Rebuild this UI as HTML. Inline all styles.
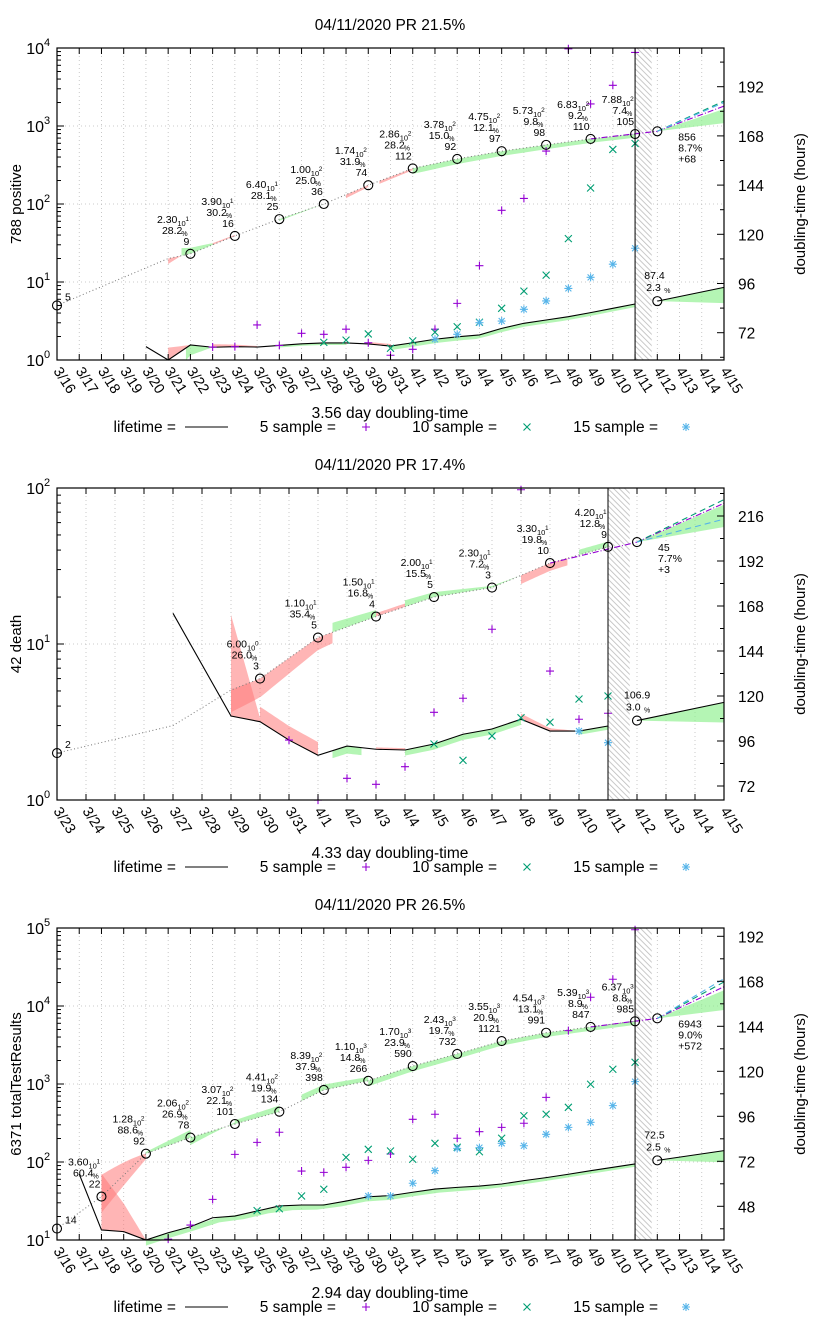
<!DOCTYPE html>
<html><head><meta charset="utf-8">
<style>
html,body{margin:0;padding:0;background:#fff;}
svg{display:block;font-family:"Liberation Sans",Arial,sans-serif;}
</style></head>
<body>
<svg id="chart" xmlns="http://www.w3.org/2000/svg" width="820" height="1320" viewBox="0 0 820 1320">
<defs>
<pattern id="hatch" patternUnits="userSpaceOnUse" width="4" height="4" patternTransform="rotate(-45)">
<rect width="4" height="4" fill="#fff"/>
<line x1="0" y1="0" x2="0" y2="4" stroke="#bbb" stroke-width="1.6"/>
</pattern>
</defs>
</svg>
<script>
// ---------- Panel 1: positive ----------
const p1Dates = ['3/16','3/17','3/18','3/19','3/20','3/21','3/22','3/23','3/24','3/25','3/26','3/27','3/28','3/29','3/30','3/31','4/1','4/2','4/3','4/4','4/5','4/6','4/7','4/8','4/9','4/10','4/11','4/12','4/13','4/14','4/15'];
const p1CumDays = [0,5,6,8,10,12,14,16,18,20,22,24,26];
const p1CumVals = [5,20,23,39,64,100,174,286,378,475,573,683,788];
const p1CircleDays = [0,6,8,10,12,14,16,18,20,22,24,26];
const p1LabelMant = ['','2.30','3.90','6.40','1.00','1.74','2.86','3.78','4.75','5.73','6.83','7.88'];
const p1LabelExp = ['','1','1','1','2','2','2','2','2','2','2','2'];
const p1LabelPct = ['','28.2','30.2','28.1','25.0','31.9','28.2','15.0','12.1','9.8','9.2','7.4'];
const p1LabelDelta = ['5','9','16','25','36','74','112','92','97','98','110','105'];
const p1DoubDays = [4,5,6,7,8,9,10,11,12,13,14,15,16,17,18,19,20,21,22,23,24,25,26];
const p1DoubVals = [65.2,58.7,66,64.9,65.2,65,65.8,66.6,67,67,66.5,65.5,67.1,68.8,70,70.9,74.1,76.6,78.2,79.8,81.8,83.9,86];
const p1PlusDays = [7,8,9,10,11,12,13,14,15,16,17,18,19,20,21,22,23,24,25,26];
const p1PlusVals = [65,65.2,75.8,65.8,71.7,71.2,73.7,67.1,61,63.9,73.7,86.3,104.7,131.7,137.5,160.6,210.5,183.6,192.7,208.7];
const p1CrossDays = [12,13,14,15,16,17,18,19,20,21,22,23,24,25,26];
const p1CrossVals = [67.3,68.4,71.4,64.4,68,72.2,74.9,77.1,83.9,92.3,100.1,117.9,142.6,161.4,164.3];
const p1StarDays = [17,18,19,20,21,22,23,24,25,26];
const p1StarVals = [68.8,71.2,76.9,77.7,83.4,87.5,93.6,99,105.4,113.2];
const p1Proj = [856, 1800, 2090, 2000, 1650, 1090]; // value, purple end, teal end, cyan end, band hi, band lo
const p1ProjText = ['856','8.7%','+68'];
const p1DoubProj = [87.4, 94.1];
const p1DoubProjText = ['87.4','2.3'];
const p1CumBands = [[5,5.6,'r',0.85,1.0],[5.6,7,'g',1.25,1.05],[7,8,'r',1.05,1.03],[10,12,'g',0.95,1.0],[13,14,'r',0.9,0.95],[14.5,16,'r',0.92,0.95],[16,26,'g',0.85,0.9]];
const p1DoubBands = [[5,6,'r',6,0],[5.8,7,'g',-6,0],[7,9,'r',1.5,0.5],[10,13,'g',-1,-1],[14,15,'r',1,1],[15,26,'g',-2,-1.5]];
const p1LeftTicks = ['0','1','2','3','4'];
const p1RightTicks = [72,96,120,144,168,192];

// ---------- Panel 2: death ----------
const p2Dates = ['3/23','3/24','3/25','3/26','3/27','3/28','3/29','3/30','3/31','4/1','4/2','4/3','4/4','4/5','4/6','4/7','4/8','4/9','4/10','4/11','4/12','4/13','4/14','4/15'];
const p2CumDays = [0,4,6,7,9,11,13,15,17,19];
const p2CumVals = [2,3,5.07,6,11,15,20,23,33,42];
const p2CircleDays = [0,7,9,11,13,15,17,19];
const p2LabelMant = ['','6.00','1.10','1.50','2.00','2.30','3.30','4.20'];
const p2LabelExp = ['','0','1','1','1','1','1','1'];
const p2LabelPct = ['','26.0','35.4','16.8','15.5','7.2','19.8','12.8'];
const p2LabelDelta = ['2','3','5','4','5','3','10','9'];
const p2DoubDays = [4,6,7,8,9,10,11,12,13,14,15,16,17,18,19];
const p2DoubVals = [164.1,109.3,106.3,96.5,88.4,93.3,91.6,91.2,94.4,99.6,102.4,107.6,101.3,101.3,104];
const p2PlusDays = [8,9,10,11,12,13,14,15,16,17,18,19];
const p2PlusVals = [96.5,64.5,76.1,72.9,82.3,111.3,118.8,155.6,230,133.3,107.6,110.8];
const p2CrossDays = [13,14,15,16,17,18,19];
const p2CrossVals = [94.4,85.7,98.7,108.4,106,118.4,120];
const p2StarDays = [18,19];
const p2StarVals = [101.3,95.1];
const p2Proj = [45, 79.8, 84.3, 63.2, 78.1, 56.2];
const p2ProjText = ['45','7.7%','+3'];
const p2DoubProj = [106.9, 116.6];
const p2DoubProjText = ['106.9','3.0'];
const p2CumBands = [[6,9.5,'r',0.72,0.85],[9.5,11,'g',1.15,1.1],[11,12,'r',1.05,1.05],[12,16,'g',1.1,1.0],[16,17.6,'r',0.88,0.9],[18,19,'g',1.08,1.08]];
const p2DoubBands = [[6,7,'r',54,2],[7,9,'r',8,7],[9.5,10.5,'g',-4,-4],[11,12,'r',1,1],[12,16,'g',-3,-3],[16,18,'r',3,0],[18,19,'g',-2,-2]];
const p2LeftTicks = ['0','1','2'];
const p2RightTicks = [72,96,120,144,168,192,216];

// ---------- Panel 3: totalTestResults ----------
const p3Dates = p1Dates.slice();
const p3CumDays = [0,2,4,6,8,10,12,14,16,18,20,22,24,26];
const p3CumVals = [14,36,128,206,307,441,839,1100,1700,2430,3550,4540,5390,6371];
const p3CircleDays = [0,2,4,6,8,10,12,14,16,18,20,22,24,26];
const p3LabelMant = ['','3.60','1.28','2.06','3.07','4.41','8.39','1.10','1.70','2.43','3.55','4.54','5.39','6.37'];
const p3LabelExp = ['','1','2','2','2','2','2','3','3','3','3','3','3','3'];
const p3LabelPct = ['','60.4','88.6','26.9','22.1','19.9','37.9','14.8','23.9','19.7','20.9','13.1','8.9','8.8'];
const p3LabelDelta = ['14','22','92','78','101','134','398','266','590','732','1121','991','847','985'];
const p3DoubDays = [1,2,3,4,5,6,7,8,9,10,11,12,13,14,15,16,17,18,19,20,21,22,23,24,25,26];
const p3DoubVals = [65.2,35.4,34.5,30,33.9,37.1,41.9,42.8,45.5,48.2,48.7,48.7,50.8,53.1,53.7,55.5,57.2,58.1,58.8,59.9,61.7,63.3,65.1,67,68.8,70.6];
const p3PlusDays = [5,6,7,8,9,10,11,12,13,14,15,16,17,18,19,20,21,22,23,24,25,26];
const p3PlusVals = [30.5,38,51.7,75.7,82.1,87.5,66.8,66.1,68.8,72.5,75.9,94.4,97.1,84.3,87.8,90.1,92.3,106.1,141.7,159.5,169.1,195.5];
const p3CrossDays = [9,10,11,12,13,14,15,16,17,18,19,20,21,22,23,24,25,26];
const p3CrossVals = [45.7,46.7,53.5,57.1,74.1,78.4,77.5,73.1,81.6,79.5,77.1,84.3,96.3,97.1,100.8,113.1,121.1,124.8];
const p3StarDays = [14,15,16,17,18,19,20,21,22,23,24,25,26];
const p3StarVals = [53.5,53.5,60.3,67,78.9,79.3,81.6,80.3,86.4,90.1,92.8,101.7,114.5];
const p3Proj = [6943, 17660, 20340, 22390, 15900, 8890];
const p3ProjText = ['6943','9.0%','+572'];
const p3DoubProj = [72.5, 77.7];
const p3DoubProjText = ['72.5','2.5'];
const p3CumBands = [[2,4,'r',1.9,1.0],[2,4,'r',0.62,0.85],[4,6,'g',1.05,1.25],[6,8,'g',0.8,1.05],[8,10,'g',1.12,1.2],[11,14,'g',1.2,1.12],[14,26,'g',0.85,0.9]];
const p3DoubBands = [[2,4,'r',30,0],[4,26,'g',-3,-1.5]];
const p3LeftTicks = ['1','2','3','4','5'];
const p3RightTicks = [48,72,96,120,144,168,192];

const NS = 'http://www.w3.org/2000/svg';
const svg = document.getElementById('chart');
const PURPLE = '#9400d3', TEAL = '#009e73', CYAN = '#56b4e9';
const GREEN = 'rgba(140,240,140,0.65)', RED = 'rgba(255,120,120,0.55)';

function mk(tag, attrs, parent) {
  const e = document.createElementNS(NS, tag);
  for (const k in attrs) e.setAttribute(k, attrs[k]);
  (parent || svg).appendChild(e);
  return e;
}
function txt(str, attrs, parent) {
  const e = mk('text', attrs, parent);
  e.textContent = str;
  return e;
}

function drawPanel(C) {
  const g = mk('g', {});
  
  
  const xs = d => C.x0 + d * (C.x1 - C.x0) / C.ndays;
  const yl = v => C.bot - (Math.log10(v) - C.lmin) * (C.bot - C.top) / (C.lmax - C.lmin);
  const yr = h => C.y72 - (h - 72) * C.px24 / 24;
  const cumAt = d => {
    const D = C.cumDays, V = C.cumVals;
    if (d <= D[0]) return V[0];
    for (let i = 1; i < D.length; i++) {
      if (d <= D[i]) {
        const t = (d - D[i-1]) / (D[i] - D[i-1]);
        return Math.pow(10, Math.log10(V[i-1]) + t * (Math.log10(V[i]) - Math.log10(V[i-1])));
      }
    }
    return V[V.length-1];
  };
  const doubAt = d => {
    const D = C.doubDays, V = C.doubVals;
    if (d <= D[0]) return V[0];
    for (let i = 1; i < D.length; i++) {
      if (d <= D[i]) { const t = (d - D[i-1]) / (D[i] - D[i-1]); return V[i-1] + t * (V[i] - V[i-1]); }
    }
    return V[V.length-1];
  };

  // grid
  for (let d = 1; d < C.ndays; d++) {
    const l = mk('line', {x1: xs(d), x2: xs(d), y1: C.top, y2: C.bot, stroke: '#bbb', 'stroke-width': 0.8, 'stroke-dasharray': '1,3'}, g);
    
    
  }
  for (let e = C.lmin + 1; e < C.lmax; e++) {
    const l = mk('line', {x1: C.x0, x2: C.x1, y1: yl(Math.pow(10, e)), y2: yl(Math.pow(10, e)), stroke: '#bbb', 'stroke-width': 0.8, 'stroke-dasharray': '1,3'}, g);
    
    
  }
  // hatched region
  const hr = mk('rect', {x: xs(C.today), y: C.top, width: xs(C.today + 0.75) - xs(C.today), height: C.bot - C.top, fill: 'url(#hatch)'}, g);
  
  

  // bands on cumulative line
  C.cumBands.forEach(b => {
    const top = [], bot = [];
    for (let s = 0; s <= 20; s++) {
      const d = b[0] + (b[1] - b[0]) * s / 20, t = s / 20;
      const v = cumAt(d);
      top.push(xs(d) + ',' + yl(v));
      bot.unshift(xs(d) + ',' + yl(v * (b[3] + (b[4] - b[3]) * t)));
    }
    const p = mk('polygon', {points: top.concat(bot).join(' '), fill: b[2] === 'g' ? GREEN : RED}, g);
    
    
  });
  C.doubBands.forEach(b => {
    const top = [], bot = [];
    for (let s = 0; s <= 20; s++) {
      const d = b[0] + (b[1] - b[0]) * s / 20, t = s / 20;
      const v = doubAt(d);
      top.push(xs(d) + ',' + yr(v));
      bot.unshift(xs(d) + ',' + yr(v + b[3] + (b[4] - b[3]) * t));
    }
    const p = mk('polygon', {points: top.concat(bot).join(' '), fill: b[2] === 'g' ? GREEN : RED}, g);
    
    
  });

  // cumulative dotted line
  const cl = mk('polyline', {points: C.cumDays.map((d, i) => xs(d) + ',' + yl(C.cumVals[i])).join(' '), fill: 'none', stroke: '#777', 'stroke-width': 1, 'stroke-dasharray': '1,2.5'}, g);
  
  

  // doubling line
  const dl = mk('polyline', {points: C.doubDays.map((d, i) => xs(d) + ',' + yr(C.doubVals[i])).join(' '), fill: 'none', stroke: '#000', 'stroke-width': 1.1}, g);
  
  

  // projections
  const pd = C.today + 1;
  const pb = mk('polygon', {points: [xs(pd) + ',' + yl(C.proj[0]), xs(C.ndays) + ',' + yl(C.proj[4]), xs(C.ndays) + ',' + yl(C.proj[5])].join(' '), fill: GREEN}, g);
  
  
  const pp = mk('polyline', {points: [xs(C.today - 2) + ',' + yl(cumAt(C.today - 2)), xs(pd) + ',' + yl(C.proj[0]), xs(C.ndays) + ',' + yl(C.proj[1])].join(' '), fill: 'none', stroke: PURPLE, 'stroke-width': 1.1, 'stroke-dasharray': '6,2,1,2'}, g);
  
  
  const pt = mk('line', {x1: xs(pd), y1: yl(C.proj[0]), x2: xs(C.ndays), y2: yl(C.proj[2]), stroke: TEAL, 'stroke-width': 1.1, 'stroke-dasharray': '6,4'}, g);
  
  
  const pc = mk('line', {x1: xs(pd), y1: yl(C.proj[0]), x2: xs(C.ndays), y2: yl(C.proj[3]), stroke: CYAN, 'stroke-width': 1.1, 'stroke-dasharray': '6,4'}, g);
  
  
  const db = mk('polygon', {points: [xs(pd) + ',' + yr(C.doubProj[0]), xs(C.ndays) + ',' + yr(C.doubProj[1]), xs(C.ndays) + ',' + yr(C.doubProj[0] - 1)].join(' '), fill: GREEN}, g);
  
  
  const dp = mk('line', {x1: xs(pd), y1: yr(C.doubProj[0]), x2: xs(C.ndays), y2: yr(C.doubProj[1]), stroke: '#000', 'stroke-width': 1.1}, g);
  
  

  // markers
  C.plusDays.forEach((d, i) => {
    const x = xs(d), y = yr(C.plusVals[i]);
    const m = mk('path', {d: `M${x-4},${y}H${x+4}M${x},${y-4}V${y+4}`, stroke: PURPLE, 'stroke-width': 1.1}, g);
    
    
  });
  C.crossDays.forEach((d, i) => {
    const x = xs(d), y = yr(C.crossVals[i]);
    const m = mk('path', {d: `M${x-3.5},${y-3.5}L${x+3.5},${y+3.5}M${x-3.5},${y+3.5}L${x+3.5},${y-3.5}`, stroke: TEAL, 'stroke-width': 1.1}, g);
    
    
  });
  C.starDays.forEach((d, i) => {
    const x = xs(d), y = yr(C.starVals[i]);
    const m = mk('path', {d: `M${x-4},${y}H${x+4}M${x},${y-4}V${y+4}M${x-3},${y-3}L${x+3},${y+3}M${x-3},${y+3}L${x+3},${y-3}`, stroke: CYAN, 'stroke-width': 1.1}, g);
    
    
  });

  // circles and labels
  C.circleDays.forEach((d, i) => {
    const x = xs(d), y = yl(cumAt(d));
    const c = mk('circle', {cx: x, cy: y, r: 4.5, fill: 'none', stroke: '#000', 'stroke-width': 1.1}, g);
    
    
    if (i === 0) {
      const t = txt(C.labDelta[i], {x: x + 8, y: y - 5, 'font-size': 10.5}, g);
      
      
      return;
    }
    const a = txt(C.labMant[i], {x: x - 13, y: y - 31, 'font-size': 10.5, 'text-anchor': 'end'}, g);
    
    
    const b = txt('10', {x: x - 13, y: y - 28, 'font-size': 7.5}, g);
    
    
    const e = txt(C.labExp[i], {x: x - 5, y: y - 33, 'font-size': 6.5}, g);
    
    
    const p = txt(C.labPct[i], {x: x - 8, y: y - 20, 'font-size': 10.5, 'text-anchor': 'end'}, g);
    
    
    const ps = txt('%', {x: x - 9, y: y - 18, 'font-size': 7}, g);
    
    
    const dt = txt(C.labDelta[i], {x: x - 1, y: y - 9, 'font-size': 10.5, 'text-anchor': 'end'}, g);
    
    
  });
  // projection circles and text
  const pcx = xs(pd), pcy = yl(C.proj[0]);
  const pci = mk('circle', {cx: pcx, cy: pcy, r: 4.5, fill: 'none', stroke: '#000', 'stroke-width': 1.1}, g);
  
  
  C.projText.forEach((s, i) => {
    const t = txt(s, {x: pcx + 21, y: pcy + 9 + i * 11, 'font-size': 10.5}, g);
    
    
  });
  const dcy = yr(C.doubProj[0]);
  const dci = mk('circle', {cx: pcx, cy: dcy, r: 4.5, fill: 'none', stroke: '#000', 'stroke-width': 1.1}, g);
  
  
  const dt1 = txt(C.doubProjText[0], {x: pcx - 13, y: dcy - 22, 'font-size': 10.5}, g);
  
  
  const dt2 = txt(C.doubProjText[1], {x: pcx - 11, y: dcy - 10, 'font-size': 10.5}, g);
  
  
  const dt3 = txt('%', {x: pcx + 7, y: dcy - 8, 'font-size': 7}, g);
  
  

  // today line
  const tl = mk('line', {x1: xs(C.today), x2: xs(C.today), y1: C.top, y2: C.bot, stroke: '#000', 'stroke-width': 1}, g);
  
  

  // frame
  const fr = mk('rect', {x: C.x0, y: C.top, width: C.x1 - C.x0, height: C.bot - C.top, fill: 'none', stroke: '#000', 'stroke-width': 1.2}, g);
  
  

  // x ticks and labels
  C.dates.forEach((s, d) => {
    const x = xs(d);
    const tk = mk('path', {d: `M${x},${C.bot}v-6M${x},${C.top}v6`, stroke: '#000', 'stroke-width': 1}, g);
    
    
    const lx = x - 4, ly = C.bot + 11;
    const t = txt(s, {x: lx, y: ly, 'font-size': 14.5, transform: `rotate(57 ${lx} ${ly})`}, g);
    
    
  });
  // left ticks
  for (let e = C.lmin; e <= C.lmax; e++) {
    const y = yl(Math.pow(10, e));
    const tk = mk('line', {x1: C.x0, x2: C.x0 + 7, y1: y, y2: y, stroke: '#000'}, g);
    
    
    if (e < C.lmax) {
      for (let m = 2; m <= 9; m++) {
        const ym = yl(m * Math.pow(10, e));
        const mt = mk('line', {x1: C.x0, x2: C.x0 + 4, y1: ym, y2: ym, stroke: '#000'}, g);
        
        
      }
    }
  }
  C.leftTicks.forEach(s => {
    const y = yl(Math.pow(10, +s));
    const a = txt('10', {x: 44, y: y + 6, 'font-size': 16, 'text-anchor': 'end'}, g);
    
    
    const b = txt(s, {x: 44, y: y - 2, 'font-size': 11}, g);
    
    
  });
  // right ticks
  for (let h = C.rightTicks[0] - 12; h <= C.rightTicks[C.rightTicks.length - 1] + 24; h += 12) {
    const y = yr(h);
    if (y < C.top || y > C.bot) continue;
    const major = C.rightTicks.indexOf(h) >= 0;
    const tk = mk('line', {x1: C.x1, x2: C.x1 - (major ? 7 : 4), y1: y, y2: y, stroke: '#000'}, g);
    
    
  }
  C.rightTicks.forEach(h => {
    const t = txt(String(h), {x: 738, y: yr(h) + 6, 'font-size': 15.5}, g);
    
    
  });

  // titles
  const ti = txt(C.title, {x: 390, y: C.top - 18, 'font-size': 15.5, 'text-anchor': 'middle'}, g);
  
  
  const cy = (C.top + C.bot) / 2;
  const yt = txt(C.yTitle, {x: 21, y: cy, 'font-size': 15, 'text-anchor': 'middle', transform: `rotate(-90 21 ${cy})`}, g);
  
  
  const rt = txt('doubling-time (hours)', {x: 805, y: cy, 'font-size': 15, 'text-anchor': 'middle', transform: `rotate(-90 805 ${cy})`}, g);
  
  
  const xt = txt(C.xTitle, {x: 390, y: C.bot + 58, 'font-size': 15.5, 'text-anchor': 'middle'}, g);
  
  

  // legend
  const ly = C.bot + 72;
  const l1 = txt('lifetime =', {x: 176, y: ly, 'font-size': 15.5, 'text-anchor': 'end'}, g);
  
  
  const l1m = mk('line', {x1: 185, x2: 228, y1: ly - 5, y2: ly - 5, stroke: '#000', 'stroke-width': 1.1}, g);
  
  
  const l2 = txt('5 sample =', {x: 336, y: ly, 'font-size': 15.5, 'text-anchor': 'end'}, g);
  
  
  const l2m = mk('path', {d: `M362,${ly-5}h8M366,${ly-9}v8`, stroke: PURPLE, 'stroke-width': 1.1}, g);
  
  
  const l3 = txt('10 sample =', {x: 497, y: ly, 'font-size': 15.5, 'text-anchor': 'end'}, g);
  
  
  const l3m = mk('path', {d: `M523.5,${ly-8.5}l7,7m-7,0l7,-7`, stroke: TEAL, 'stroke-width': 1.1}, g);
  
  
  const l4 = txt('15 sample =', {x: 658, y: ly, 'font-size': 15.5, 'text-anchor': 'end'}, g);
  
  
  const l4m = mk('path', {d: `M682,${ly-5}h8M686,${ly-9}v8M683,${ly-8}l6,6M683,${ly-2}l6,-6`, stroke: CYAN, 'stroke-width': 1.1}, g);
  
  
}

drawPanel({name: 'positive-panel', title: '04/11/2020 PR 21.5%', yTitle: '788 positive', xTitle: '3.56 day doubling-time',
  x0: 57, x1: 724, top: 48, bot: 360, ndays: 30, today: 26, lmin: 0, lmax: 4, y72: 332.7, px24: 49.2,
  dates: p1Dates, cumDays: p1CumDays, cumVals: p1CumVals, circleDays: p1CircleDays,
  labMant: p1LabelMant, labExp: p1LabelExp, labPct: p1LabelPct, labDelta: p1LabelDelta,
  doubDays: p1DoubDays, doubVals: p1DoubVals, plusDays: p1PlusDays, plusVals: p1PlusVals,
  crossDays: p1CrossDays, crossVals: p1CrossVals, starDays: p1StarDays, starVals: p1StarVals,
  proj: p1Proj, projText: p1ProjText, doubProj: p1DoubProj, doubProjText: p1DoubProjText,
  cumBands: p1CumBands, doubBands: p1DoubBands, leftTicks: p1LeftTicks, rightTicks: p1RightTicks});

drawPanel({name: 'death-panel', title: '04/11/2020 PR 17.4%', yTitle: '42 death', xTitle: '4.33 day doubling-time',
  x0: 57, x1: 724, top: 488, bot: 800, ndays: 23, today: 19, lmin: 0, lmax: 2, y72: 786, px24: 45,
  dates: p2Dates, cumDays: p2CumDays, cumVals: p2CumVals, circleDays: p2CircleDays,
  labMant: p2LabelMant, labExp: p2LabelExp, labPct: p2LabelPct, labDelta: p2LabelDelta,
  doubDays: p2DoubDays, doubVals: p2DoubVals, plusDays: p2PlusDays, plusVals: p2PlusVals,
  crossDays: p2CrossDays, crossVals: p2CrossVals, starDays: p2StarDays, starVals: p2StarVals,
  proj: p2Proj, projText: p2ProjText, doubProj: p2DoubProj, doubProjText: p2DoubProjText,
  cumBands: p2CumBands, doubBands: p2DoubBands, leftTicks: p2LeftTicks, rightTicks: p2RightTicks});

drawPanel({name: 'tests-panel', title: '04/11/2020 PR 26.5%', yTitle: '6371 totalTestResults', xTitle: '2.94 day doubling-time',
  x0: 57, x1: 724, top: 928, bot: 1240, ndays: 30, today: 26, lmin: 1, lmax: 5, y72: 1161.3, px24: 45,
  dates: p3Dates, cumDays: p3CumDays, cumVals: p3CumVals, circleDays: p3CircleDays,
  labMant: p3LabelMant, labExp: p3LabelExp, labPct: p3LabelPct, labDelta: p3LabelDelta,
  doubDays: p3DoubDays, doubVals: p3DoubVals, plusDays: p3PlusDays, plusVals: p3PlusVals,
  crossDays: p3CrossDays, crossVals: p3CrossVals, starDays: p3StarDays, starVals: p3StarVals,
  proj: p3Proj, projText: p3ProjText, doubProj: p3DoubProj, doubProjText: p3DoubProjText,
  cumBands: p3CumBands, doubBands: p3DoubBands, leftTicks: p3LeftTicks, rightTicks: p3RightTicks});
</script>
</body></html>
